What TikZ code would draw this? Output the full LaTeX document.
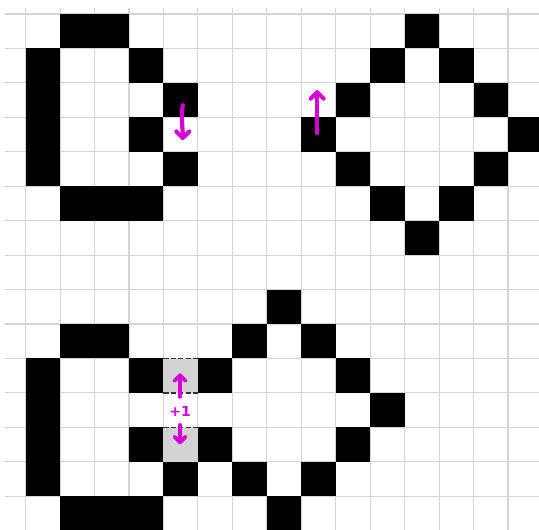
\documentclass[tikz,border=0pt]{standalone}
\usepackage{fontspec}
\newfontfamily\lblfont{DejaVu Sans}
\usetikzlibrary{arrows.meta}
\definecolor{gridc}{RGB}{212,212,212}
\definecolor{penc}{RGB}{214,0,214}
\definecolor{grayc}{RGB}{211,211,211}
\begin{document}
\begin{tikzpicture}[x=17.225pt,y=-17.225pt,
  gridline/.style={draw=gridc,line width=0.55pt},
  blk/.style={fill=black},
  gry/.style={fill=grayc},
  dashedge/.style={draw=black!80,line width=0.6pt,dash pattern=on 2.6pt off 1.1pt},
  pen/.style={draw=penc,line width=2.1pt,line cap=round,line join=round,
    -{Straight Barb[length=3.2pt,width=6.5pt,line cap=round,line join=round]}},
  pensmall/.style={draw=penc,line width=1.9pt,line cap=round,line join=round,
    -{Straight Barb[length=2.8pt,width=5.5pt,line cap=round,line join=round]}},
  lbl/.style={text=penc,font=\lblfont\bfseries\fontsize{7}{8}\selectfont,inner sep=0pt}]
\useasboundingbox[fill=white] (-0.746,-0.406) rectangle (14.90,14.978);
% grid
\foreach \c in {0,...,14}{\draw[gridline] (\c,-0.174) -- (\c,14.978);}
\foreach \r in {0,...,14}{\draw[gridline] (-0.60,\r) -- (14.90,\r);}
% black cells
\foreach \c/\r in {1/0,2/0,0/1,3/1,0/2,4/2,0/3,3/3,0/4,4/4,1/5,2/5,3/5,
  11/0,10/1,12/1,9/2,13/2,8/3,14/3,9/4,13/4,10/5,12/5,11/6,
  7/8,1/9,2/9,6/9,8/9,0/10,3/10,5/10,9/10,0/11,10/11,0/12,3/12,5/12,9/12,
  0/13,4/13,6/13,8/13,1/14,2/14,3/14,7/14}
  {\fill[blk] (\c,\r) rectangle ++(1,1);}
% gray cells
\fill[gry] (4,10) rectangle (5,11);
\fill[gry] (4,12) rectangle (5,13);
\draw[dashedge] (4,10) -- (5,10);
\draw[dashedge] (4,11) -- (5,11);
\draw[dashedge] (4,12) -- (5,12);
% arrows
\coordinate (a1s) at (4.56,2.65); \coordinate (a1e) at (4.56,3.66);
\coordinate (a2s) at (8.46,3.46); \coordinate (a2e) at (8.46,2.21);
\coordinate (a3s) at (4.48,11.11); \coordinate (a3e) at (4.48,10.43);
\coordinate (a4s) at (4.48,11.93); \coordinate (a4e) at (4.48,12.49);
\draw[pen] (a1s) .. controls (4.50,3.0) and (4.56,3.3) .. (a1e);
\draw[pen] (a2s) -- (a2e);
\draw[pensmall] (a3s) -- (a3e);
\draw[pensmall] (a4s) -- (a4e);
\node[lbl] (plus) at (4.48,11.54) {+1};
\end{tikzpicture}
\end{document}
